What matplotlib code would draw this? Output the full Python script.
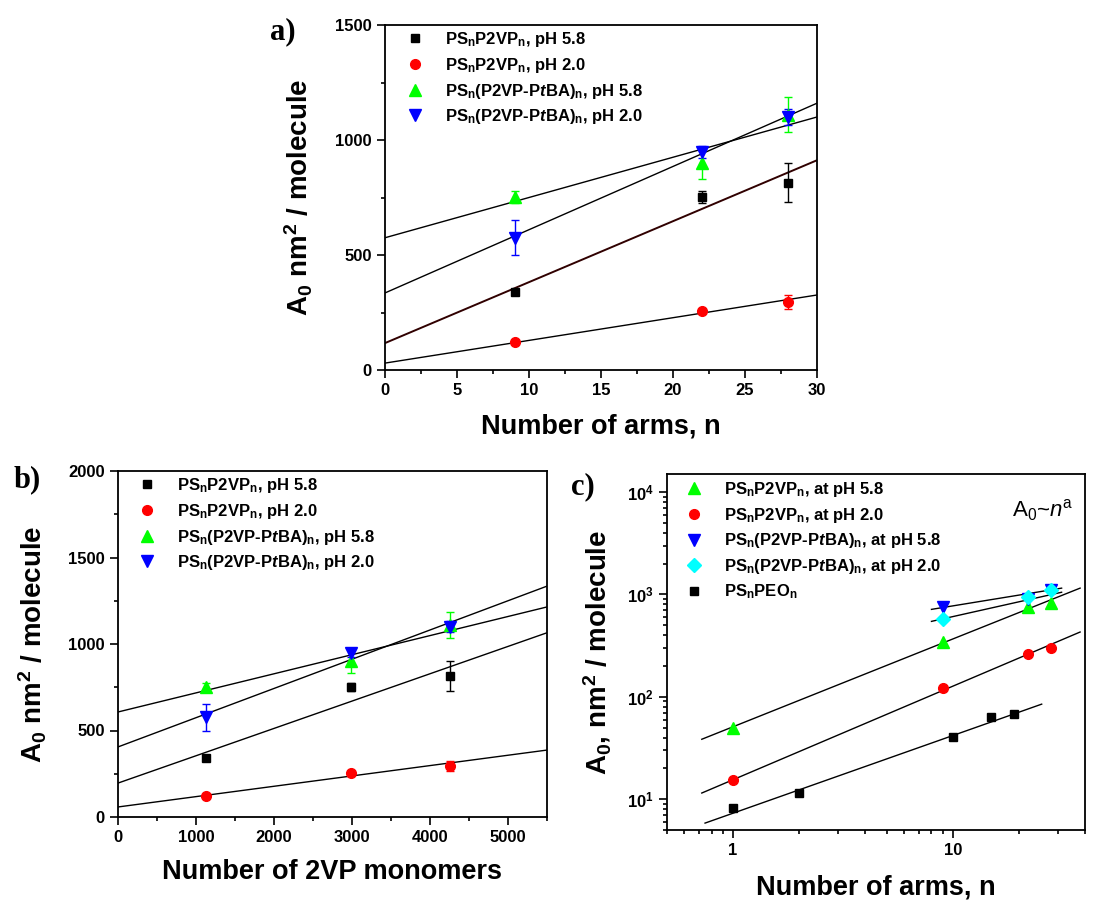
import numpy as np
import matplotlib
matplotlib.use("Agg")
import matplotlib.pyplot as plt
from matplotlib.ticker import MultipleLocator, FixedLocator, NullFormatter, LogLocator

plt.rcParams['font.family'] = 'Liberation Sans'
plt.rcParams['font.weight'] = 'bold'
plt.rcParams['mathtext.fontset'] = 'custom'
plt.rcParams['mathtext.rm'] = 'Liberation Sans:normal'
plt.rcParams['mathtext.it'] = 'Liberation Sans:italic:normal'
plt.rcParams['mathtext.bf'] = 'Liberation Sans:bold'
plt.rcParams['mathtext.bfit'] = 'Liberation Sans:italic:bold'

# ---- data (same measurements used in a, b, c) ----
arms = [9, 22, 28]
monomers = [1125, 2990, 4250]

p2vp_58 = [340, 752, 815]
p2vp_58_err = [12, 25, 85]
p2vp_20 = [122, 257, 296]
p2vp_20_err = [10, 10, 30]
tba_58 = [752, 900, 1110]
tba_58_err = [25, 70, 75]
tba_20 = [576, 948, 1100]
tba_20_err = [76, 25, 33]

# panel c extra data
arms_c = [1, 9, 22, 28]
p2vp_58_c = [50, 340, 752, 822]
p2vp_20_c = [15.3, 121, 262, 300]
peo_arms = [1, 2, 10, 15, 19]
peo = [8.2, 11.4, 40.3, 63, 68]

# linear fits (intercept, slope)
fit_a = {'tba58': (575, 17.5), 'tba20': (335, 27.5), 'p2vp58': (117, 26.5), 'p2vp20': (30, 9.87)}
fit_b = {'tba58': (607, 0.1104), 'tba20': (405, 0.169), 'p2vp58': (196, 0.158), 'p2vp20': (58, 0.0598)}
# power-law fits A0 = c * n^a, drawn over [n_lo, n_hi]
fit_c = {'p2vp58': (51, 0.857, 0.72, 38), 'p2vp20': (15.5, 0.913, 0.72, 38),
         'peo': (7.3, 0.758, 0.745, 25.4), 'tba58': (345, 0.35, 8.0, 31.3),
         'tba20': (201, 0.48, 8.0, 31.3)}

lab_b = [r"PS$_\mathbf{n}$P2VP$_\mathbf{n}$, pH 5.8", r"PS$_\mathbf{n}$P2VP$_\mathbf{n}$, pH 2.0",
         r"PS$_\mathbf{n}$(P2VP-P$\mathbfit{t}$BA)$_\mathbf{n}$, pH 5.8",
         r"PS$_\mathbf{n}$(P2VP-P$\mathbfit{t}$BA)$_\mathbf{n}$, pH 2.0"]
lab_c = [r"PS$_\mathbf{n}$P2VP$_\mathbf{n}$, at pH 5.8", r"PS$_\mathbf{n}$P2VP$_\mathbf{n}$, at pH 2.0",
         r"PS$_\mathbf{n}$(P2VP-P$\mathbfit{t}$BA)$_\mathbf{n}$, at pH 5.8",
         r"PS$_\mathbf{n}$(P2VP-P$\mathbfit{t}$BA)$_\mathbf{n}$, at pH 2.0",
         r"PS$_\mathbf{n}$PEO$_\mathbf{n}$"]

RED, GREEN, BLUE, CYAN = '#ff0000', '#00ff00', '#0000ff', '#00ffff'

fig = plt.figure(figsize=(11.01, 9.01), dpi=100)
W, H = 1101, 901


def box(l, t, r, b):
    return [l / W, (H - b) / H, (r - l) / W, (b - t) / H]


def style(ax):
    ax.tick_params(which='both', direction='out', top=False, right=False, labelsize=12, width=1.2)
    ax.tick_params(which='major', length=6)
    ax.tick_params(which='minor', length=3)
    for lab in ax.get_xticklabels() + ax.get_yticklabels():
        lab.set_fontweight('bold')
    for s in ax.spines.values():
        s.set_linewidth(1.3)


def series(ax, x, ys, errs=None):
    specs = [('s', 'black', 6, ys[0]), ('o', RED, 7, ys[1]), ('^', GREEN, 9, ys[2]), ('v', BLUE, 9, ys[3])]
    for i, (m, c, ms, y) in enumerate(specs):
        if errs is not None:
            ax.errorbar(x, y, yerr=errs[i], fmt='none', ecolor=c, elinewidth=1, capsize=3, capthick=1, zorder=2)
    for i, (m, c, ms, y) in enumerate(specs):
        ax.plot(x, y, m, color=c, ms=ms, mec=c, linestyle='none', label=lab_b[i], zorder=3)


def fits(ax, f, x0, x1, dark):
    xx = np.array([x0, x1])
    for k in ['tba58', 'tba20', 'p2vp20']:
        b0, k1 = f[k]
        ax.plot(xx, b0 + k1 * xx, color='black', lw=1, zorder=1)
    b0, k1 = f['p2vp58']
    ax.plot(xx, b0 + k1 * xx, color=dark, lw=1.4 if dark != 'black' else 1, zorder=1)


def legend(ax, x0, y0):
    ax.legend(loc='upper left', bbox_to_anchor=(x0, y0), frameon=False, fontsize=12,
              handlelength=1.0, handletextpad=1.3, labelspacing=0.4, borderaxespad=0, borderpad=0,
              numpoints=1)


# ---------------- a ----------------
axa = fig.add_axes(box(385, 25, 817, 370))
series(axa, arms, [p2vp_58, p2vp_20, tba_58, tba_20], [p2vp_58_err, p2vp_20_err, tba_58_err, tba_20_err])
fits(axa, fit_a, 0, 30, '#300000')
axa.set_xlim(0, 30)
axa.set_ylim(0, 1500)
axa.xaxis.set_major_locator(MultipleLocator(5))
axa.xaxis.set_minor_locator(MultipleLocator(2.5))
axa.yaxis.set_major_locator(MultipleLocator(500))
axa.yaxis.set_minor_locator(MultipleLocator(250))
style(axa)
axa.set_xlabel('Number of arms, n', fontsize=19.5, fontweight='bold')
axa.set_ylabel(r'A$_\mathbf{0}$ nm$^\mathbf{2}$ / molecule', fontsize=20, fontweight='bold')
axa.xaxis.set_label_coords(0.5, -0.125)
axa.yaxis.set_label_coords(-0.162, 0.5)
legend(axa, 0.05, 0.985)
fig.text(283 / W, 1 - 32 / H, 'a)', family='Liberation Serif', fontsize=22, fontweight='bold', ha='center', va='center')

# ---------------- b ----------------
axb = fig.add_axes(box(118, 471, 547, 817))
series(axb, monomers, [p2vp_58, p2vp_20, tba_58, tba_20], [p2vp_58_err, p2vp_20_err, tba_58_err, tba_20_err])
fits(axb, fit_b, 0, 5500, 'black')
axb.set_xlim(0, 5500)
axb.set_ylim(0, 2000)
axb.xaxis.set_major_locator(MultipleLocator(1000))
axb.xaxis.set_minor_locator(MultipleLocator(500))
axb.yaxis.set_major_locator(MultipleLocator(500))
axb.yaxis.set_minor_locator(MultipleLocator(250))
style(axb)
axb.set_xlabel('Number of 2VP monomers', fontsize=19.5, fontweight='bold')
axb.set_ylabel(r'A$_\mathbf{0}$ nm$^\mathbf{2}$ / molecule', fontsize=20, fontweight='bold')
axb.xaxis.set_label_coords(0.5, -0.121)
axb.yaxis.set_label_coords(-0.161, 0.5)
legend(axb, 0.048, 0.985)
fig.text(27 / W, 1 - 480 / H, 'b)', family='Liberation Serif', fontsize=22, fontweight='bold', ha='center', va='center')

# ---------------- c ----------------
axc = fig.add_axes(box(667, 474, 1085, 830))
axc.set_xscale('log')
axc.set_yscale('log')
for k, (c0, a, lo, hi) in fit_c.items():
    xx = np.array([lo, hi])
    axc.plot(xx, c0 * xx ** a, color='black', lw=1, zorder=1)
axc.plot(arms_c, p2vp_58_c, '^', color=GREEN, ms=9, linestyle='none', label=lab_c[0], zorder=3)
axc.plot(arms_c, p2vp_20_c, 'o', color=RED, ms=7, linestyle='none', label=lab_c[1], zorder=3)
axc.plot(arms, tba_58, 'v', color=BLUE, ms=9, linestyle='none', label=lab_c[2], zorder=3)
axc.plot(arms, tba_20, 'D', color=CYAN, ms=7, linestyle='none', label=lab_c[3], zorder=3)
axc.plot(peo_arms, peo, 's', color='black', ms=6, linestyle='none', label=lab_c[4], zorder=3)
axc.set_xlim(0.5, 40)
axc.set_ylim(5, 15000)
axc.xaxis.set_major_locator(FixedLocator([1, 10]))
axc.xaxis.set_major_formatter(plt.FuncFormatter(lambda v, p: '%d' % v))
axc.xaxis.set_minor_locator(LogLocator(base=10, subs=np.arange(2, 10)))
axc.xaxis.set_minor_formatter(NullFormatter())
axc.yaxis.set_major_locator(FixedLocator([10, 100, 1000, 10000]))
axc.yaxis.set_major_formatter(plt.FuncFormatter(lambda v, p: r'$\mathbf{10^{%d}}$' % round(np.log10(v))))
axc.yaxis.set_minor_locator(LogLocator(base=10, subs=np.arange(2, 10)))
axc.yaxis.set_minor_formatter(NullFormatter())
style(axc)
axc.set_xlabel('Number of arms, n', fontsize=19.5, fontweight='bold')
axc.set_ylabel(r'A$_\mathbf{0}$, nm$^\mathbf{2}$ / molecule', fontsize=20, fontweight='bold')
axc.xaxis.set_label_coords(0.5, -0.126)
axc.yaxis.set_label_coords(-0.129, 0.5)
legend(axc, 0.045, 0.983)
axc.text(0.825, 0.935, r'A$_0$~$n^\mathrm{a}$', transform=axc.transAxes, fontsize=16,
         fontweight='normal', ha='left', va='top')
fig.text(583 / W, 1 - 487 / H, 'c)', family='Liberation Serif', fontsize=22, fontweight='bold', ha='center', va='center')

fig.savefig('out.png', dpi=100)
